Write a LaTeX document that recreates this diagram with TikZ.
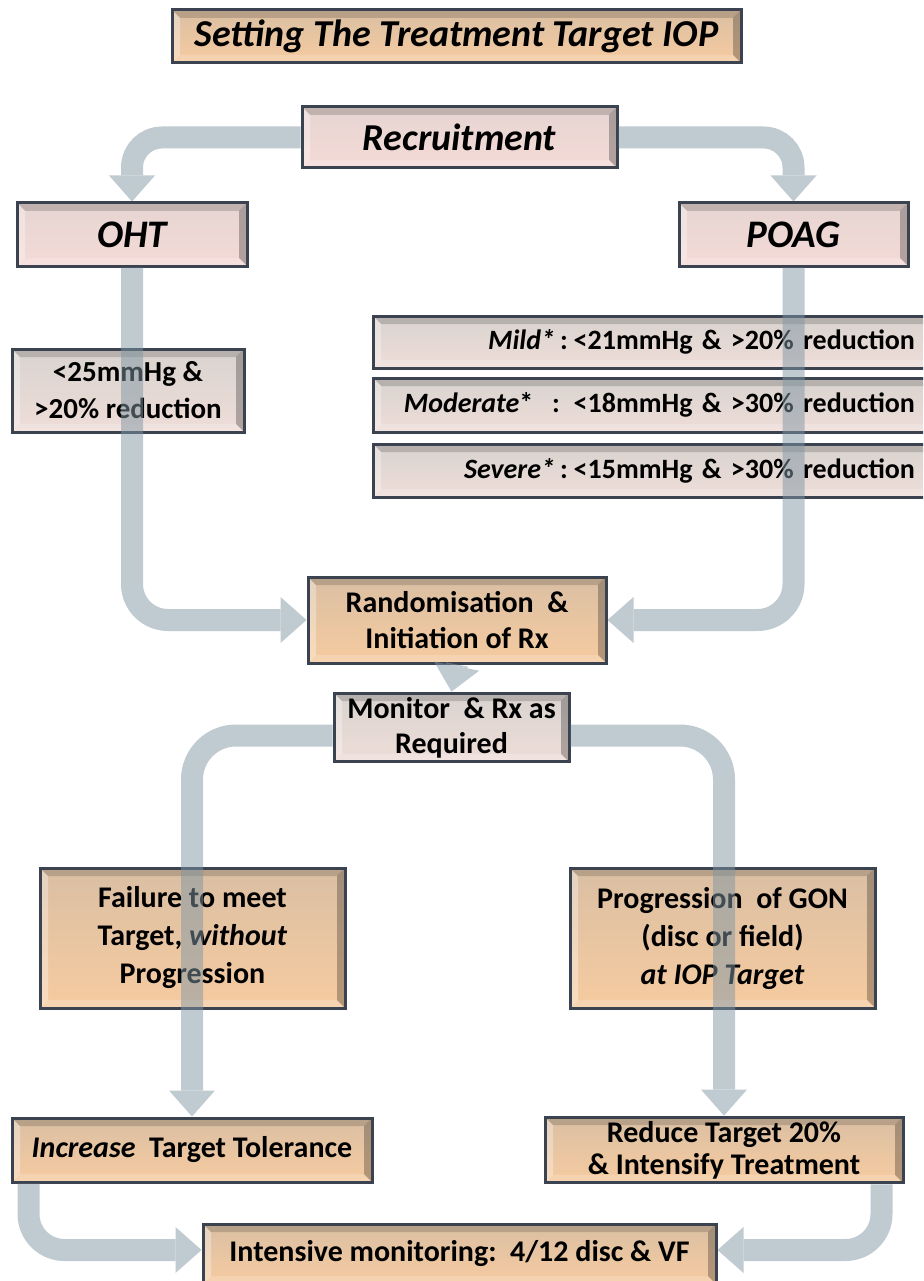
\documentclass[tikz,border=0pt]{standalone}
\usepackage{fontspec}
\setmainfont{Carlito}
\usetikzlibrary{arrows.meta,calc}
\definecolor{bordc}{HTML}{3B4250}
\definecolor{flowc}{HTML}{8096A4}
\definecolor{tanT}{HTML}{DABFA3}
\definecolor{tanB}{HTML}{F6CBA0}
\definecolor{pinkT}{HTML}{E6D5D2}
\definecolor{pinkB}{HTML}{F4DAD6}
\definecolor{grayT}{HTML}{D8D3CF}
\definecolor{grayB}{HTML}{EFDDD8}
\newcommand\bevelpic{%
  \path (path picture bounding box.north west) coordinate (bvA)
        (path picture bounding box.north east) coordinate (bvB)
        (path picture bounding box.south east) coordinate (bvC)
        (path picture bounding box.south west) coordinate (bvD);
  \fill[black,opacity=.16] (bvA) -- (bvB) -- ($(bvB)+(-8,8)$) -- ($(bvA)+(8,8)$) -- cycle;
  \fill[black,opacity=.26] (bvB) -- (bvC) -- ($(bvC)+(-8,-8)$) -- ($(bvB)+(-8,8)$) -- cycle;
  \fill[white,opacity=.32] (bvA) -- (bvD) -- ($(bvD)+(8,-8)$) -- ($(bvA)+(8,8)$) -- cycle;
  \fill[white,opacity=.18] (bvD) -- (bvC) -- ($(bvC)+(-8,-8)$) -- ($(bvD)+(8,-8)$) -- cycle;
}
\tikzset{
  box/.style={rectangle, draw=bordc, line width=3pt, align=center,
    inner sep=4pt, font=\bfseries\fontsize{30}{36}\selectfont,
    path picture={\bevelpic}},
  tanbox/.style={box, top color=tanT, bottom color=tanB},
  pinkbox/.style={box, top color=pinkT, bottom color=pinkB},
  graybox/.style={box, top color=grayT, bottom color=grayB},
  critbox/.style={graybox, text width=522pt, inner xsep=20pt, align=right,
    font=\bfseries\fontsize{28}{32}\selectfont},
  flow/.style={draw=flowc, line width=22pt, rounded corners=36pt,
    -{Triangle[width=46pt,length=26pt,line width=0pt]}},
}
\begin{document}
\begin{tikzpicture}[x=1pt,y=-1pt]
\useasboundingbox (0,0) rectangle (923,1281);
\begin{scope}
\clip (0,0) rectangle (923,1281);
% boxes
\node[tanbox, minimum width=569pt, minimum height=53pt,
  font=\bfseries\itshape\fontsize{38}{42}\selectfont] (title) at (456.5,36.5) {Setting The Treatment Target IOP};
\node[pinkbox, minimum width=315pt, minimum height=61pt,
  font=\bfseries\itshape\fontsize{38}{42}\selectfont] (rec) at (459.5,137.5) {Recruitment};
\node[pinkbox, minimum width=230pt, minimum height=63pt,
  font=\bfseries\itshape\fontsize{39}{42}\selectfont] (oht) at (132,234.5) {OHT};
\node[pinkbox, minimum width=229pt, minimum height=63pt,
  font=\bfseries\itshape\fontsize{39}{42}\selectfont] (poag) at (793.5,234.5) {POAG};
\node[graybox, minimum width=232pt, minimum height=83pt,
  font=\bfseries\fontsize{29}{37}\selectfont] (crit) at (128,390.5) {<25mmHg \&\\>20\% reduction};
\node[critbox, minimum width=562pt, minimum height=52pt] (mild) at (654,342)
  {\textit{Mild*}\hspace{5pt}:\hspace{6pt}<21mmHg \& >20\% reduction};
\node[critbox, minimum width=562pt, minimum height=54pt] (mod) at (654,405)
  {\textit{Moderate}*\ \ : <18mmHg \& >30\% reduction};
\node[critbox, minimum width=562pt, minimum height=53pt] (sev) at (654,470.5)
  {\textit{Severe*}\hspace{5pt}:\hspace{6pt}<15mmHg \& >30\% reduction};
\node[tanbox, minimum width=298pt, minimum height=86pt] (rand) at (457,620) {Randomisation\ \ \&\\Initiation of Rx};
\node[graybox, minimum width=235pt, minimum height=65pt,
  font=\bfseries\fontsize{30}{35}\selectfont] (mon) at (451.5,727.5) {Monitor\ \ \& Rx as\\Required};
\node[tanbox, minimum width=305pt, minimum height=140pt,
  font=\bfseries\fontsize{30}{38}\selectfont] (fail) at (192.5,938) {Failure to meet\\Target, \textit{without}\\Progression};
\node[tanbox, minimum width=305pt, minimum height=140pt,
  font=\bfseries\fontsize{30}{38}\selectfont] (prog) at (722.5,938) {Progression\ \ of GON\\(disc or field)\\\textit{at IOP Target}};
\node[tanbox, minimum width=360pt, minimum height=64pt] (inc) at (192,1150) {\textit{Increase}\ \ Target Tolerance};
\node[tanbox, minimum width=358pt, minimum height=64pt,
  font=\bfseries\fontsize{30}{32}\selectfont] (red) at (724,1150) {Reduce Target 20\%\\\& Intensify Treatment};
\node[tanbox, minimum width=513pt, minimum height=60pt] (int) at (459.5,1254) {Intensive monitoring:\ \ 4/12 disc \& VF};
% connectors
\coordinate (incout) at ($(inc.south west)+(18,0)$);
\coordinate (redout) at ($(red.south east)+(-23,0)$);
\begin{scope}[transparency group, opacity=.5]
\draw[flow, rounded corners=30pt] (rec.west) -| (oht.north);
\draw[flow, rounded corners=30pt] (rec.east) -| (poag.north);
\draw[flow] (oht.south) |- (rand.west);
\draw[flow] (poag.south) |- (rand.east);
\draw[flow] (rand.south) -- (mon.north);
\draw[flow, rounded corners=44pt] ($(mon.west)+(0,8)$) -| (inc.north);
\draw[flow, rounded corners=44pt] ($(mon.east)+(0,8)$) -| (red.north);
\draw[flow] (incout) |- ($(int.west)+(0,-4)$);
\draw[flow] (redout) |- ($(int.east)+(0,-4)$);
\end{scope}
\end{scope}
\end{tikzpicture}
\end{document}
